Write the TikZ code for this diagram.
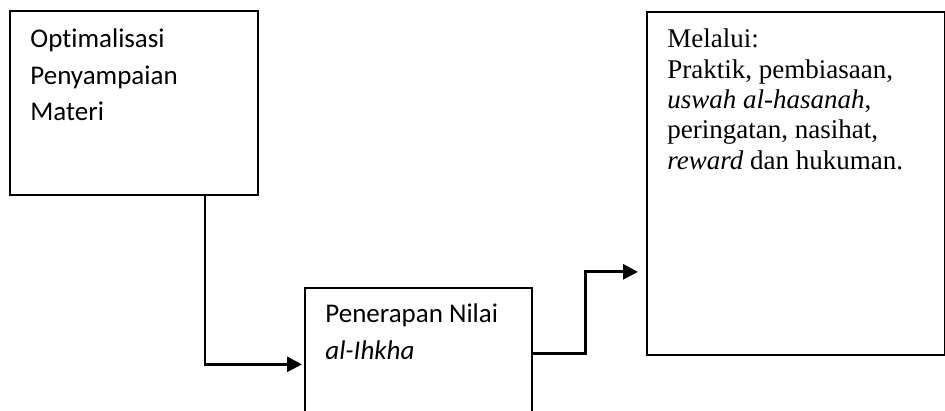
\documentclass[tikz,border=0pt]{standalone}
\usepackage{fontspec}
\setmainfont{Liberation Serif}
\newfontfamily\calibrilike[Ligatures=NoCommon]{Carlito}
\usetikzlibrary{arrows.meta}
\begin{document}
\begin{tikzpicture}[x=0.5pt,y=-0.5pt,
  box/.style={draw, line width=0.85pt, rectangle, inner sep=0pt, anchor=north west},
  lbl/.style={anchor=north west, inner sep=0pt, align=left},
  sanslbl/.style={lbl, font=\calibrilike\fontsize{13.5}{18.4}\selectfont},
  seriflbl/.style={lbl, font=\fontsize{13.5}{15.2}\selectfont},
  link/.style={line width=1.4pt, -{Triangle[length=7.5pt,width=7.5pt]}}]
\clip (0,0) rectangle (945,411);

% boxes
\node[box, minimum width=124pt, minimum height=92pt] (b1) at (9,10) {};
\node[box, minimum width=113.5pt, minimum height=76.5pt] (b2) at (304,287) {};
\node[box, minimum width=149pt, minimum height=171.5pt] (b3) at (646,11) {};

% texts
\node[sanslbl] (t1) at (30,28.2) {Optimalisasi\\Penyampaian\\Materi};
\node[sanslbl] (t2) at (325,303.7) {Penerapan Nilai\\\textit{al-Ihkha}};
\node[seriflbl] (t3) at (667,28.5) {Melalui:\\Praktik, pembiasaan,\\\textit{uswah al-hasanah},\\peringatan, nasihat,\\\textit{reward} dan hukuman.};

% connectors
\coordinate (out1) at ([xshift=98pt]b1.south west);
\draw[link, shorten >=1pt] (out1) |- (b2.west);
\coordinate (out2) at ([yshift=5.25pt]b2.east);
\coordinate (in3) at ([yshift=-44.25pt]b3.west);
\draw[link, shorten >=4pt] (out2) -- ++(53,0) |- (in3);
\end{tikzpicture}
\end{document}
